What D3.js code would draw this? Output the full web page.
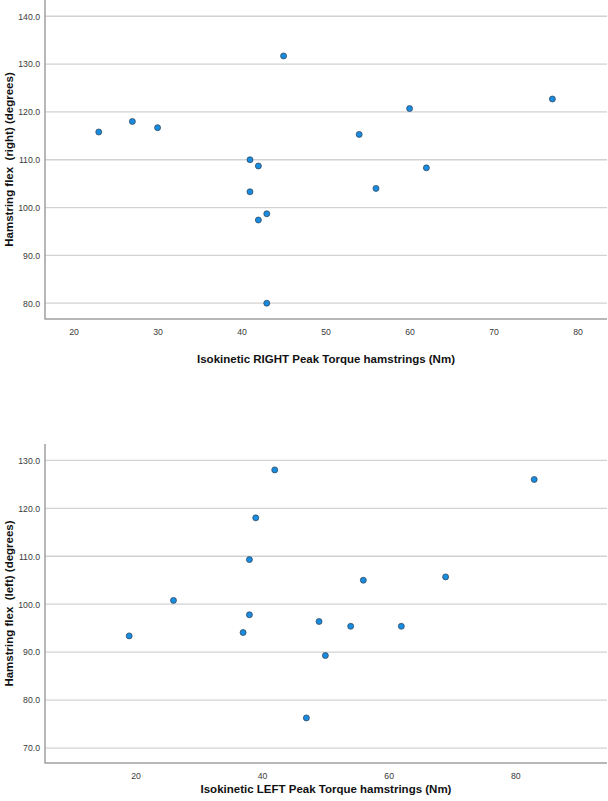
<!DOCTYPE html>
<html>
<head>
<meta charset="utf-8">
<script src="https://cdn.jsdelivr.net/npm/d3@7"></script>
<style>
  body { margin: 0; background: #fff; }
  svg { display: block; font-family: "Liberation Sans", Arial, sans-serif; }
  .tick-label { font-size: 8.7px; fill: #3a3a3a; }
  .axis-title { font-size: 11.5px; font-weight: bold; fill: #111; white-space: pre; }
</style>
</head>
<body>
<div id="chart"></div>
<script>
// top chart: right leg
var rightTorque = [23, 27, 30, 41, 42, 41, 43, 42, 43, 45, 54, 56, 60, 62, 77];
var rightFlex = [115.8, 118.0, 116.7, 110.0, 108.7, 103.3, 98.7, 97.4, 80.0, 131.7, 115.3, 104.0, 120.7, 108.3, 122.7];
var rightXTicks = [20, 30, 40, 50, 60, 70, 80];
var rightYTicks = [80, 90, 100, 110, 120, 130, 140];

// bottom chart: left leg
var leftTorque = [42, 39, 38, 26, 38, 19, 37, 49, 54, 50, 47, 83, 69, 56, 62];
var leftFlex = [128.0, 118.0, 109.3, 100.8, 97.8, 93.4, 94.1, 96.4, 95.4, 89.3, 76.3, 126.0, 105.7, 105.0, 95.4];
var leftXTicks = [20, 40, 60, 80];
var leftYTicks = [70, 80, 90, 100, 110, 120, 130];

var WIDTH = 608;
var HEIGHT = 801;
var PLOT_LEFT = 45;
var PLOT_RIGHT = 607;
var DOT_FILL = "#1a8ce0";
var DOT_STROKE = "#2c3e50";

var svg = d3.select("#chart").append("svg")
  .attr("width", WIDTH)
  .attr("height", HEIGHT);

function drawScatter(opt) {
  var x = d3.scaleLinear().domain(opt.xDomain).range([PLOT_LEFT, PLOT_RIGHT]);
  var y = d3.scaleLinear().domain(opt.yDomain).range([opt.bottom, opt.top]);
  var g = svg.append("g");

  // gridlines
  g.append("g").selectAll("line").data(opt.yTicks).enter()
    .append("line")
    .attr("x1", PLOT_LEFT)
    .attr("x2", PLOT_RIGHT)
    .attr("y1", function(d) { return y(d); })
    .attr("y2", function(d) { return y(d); })
    .attr("stroke", "#d2d2d2")
    .attr("stroke-width", 1.3);

  // y axis, labels only (no tick marks in spss output)
  var yAxis = d3.axisLeft(y).tickValues(opt.yTicks).tickSize(0).tickPadding(5)
    .tickFormat(d3.format(".1f"));
  var ya = g.append("g").attr("transform", "translate(" + PLOT_LEFT + ",0)").call(yAxis);
  ya.select(".domain").remove();
  ya.selectAll("text").attr("class", "tick-label").attr("font-family", null).attr("font-size", null).attr("fill", null);

  var xAxis = d3.axisBottom(x).tickValues(opt.xTicks).tickSize(0).tickPadding(10);
  var xa = g.append("g").attr("transform", "translate(0," + opt.bottom + ")").call(xAxis);
  xa.select(".domain").remove();
  xa.selectAll("text").attr("class", "tick-label").attr("font-family", null).attr("font-size", null).attr("fill", null);

  // axis lines
  g.append("path")
    .attr("d", "M" + PLOT_LEFT + "," + opt.top + "V" + opt.bottom + "H" + PLOT_RIGHT)
    .attr("fill", "none")
    .attr("stroke", "#a0a0a0")
    .attr("stroke-width", 1.5);

  // points
  g.append("g").selectAll("circle").data(opt.xs).enter()
    .append("circle")
    .attr("cx", function(d) { return x(d); })
    .attr("cy", function(d, i) { return y(opt.ys[i]); })
    .attr("r", 3)
    .attr("fill", DOT_FILL)
    .attr("stroke", DOT_STROKE)
    .attr("stroke-width", 0.7);

  g.append("text")
    .attr("class", "axis-title")
    .attr("x", (PLOT_LEFT + PLOT_RIGHT) / 2)
    .attr("y", opt.xTitleY)
    .attr("text-anchor", "middle")
    .attr("dominant-baseline", "middle")
    .text(opt.xTitle);

  g.append("text")
    .attr("class", "axis-title")
    .attr("transform", "translate(10," + ((opt.top + opt.bottom) / 2) + ") rotate(-90)")
    .attr("text-anchor", "middle")
    .attr("dominant-baseline", "middle")
    .text(opt.yTitle);
}

drawScatter({
  xs: rightTorque, ys: rightFlex,
  xTicks: rightXTicks, yTicks: rightYTicks,
  xDomain: [16.6, 83.5], yDomain: [76.7, 143.4],
  top: 0, bottom: 319,
  xTitle: "Isokinetic RIGHT Peak Torque hamstrings (Nm)",
  yTitle: "Hamstring flex  (right) (degrees)",
  xTitleY: 360
});

drawScatter({
  xs: leftTorque, ys: leftFlex,
  xTicks: leftXTicks, yTicks: leftYTicks,
  xDomain: [5.7, 94.5], yDomain: [66.9, 133.4],
  top: 444, bottom: 763,
  xTitle: "Isokinetic LEFT Peak Torque hamstrings (Nm)",
  yTitle: "Hamstring flex  (left) (degrees)",
  xTitleY: 790
});
</script>
</body>
</html>
